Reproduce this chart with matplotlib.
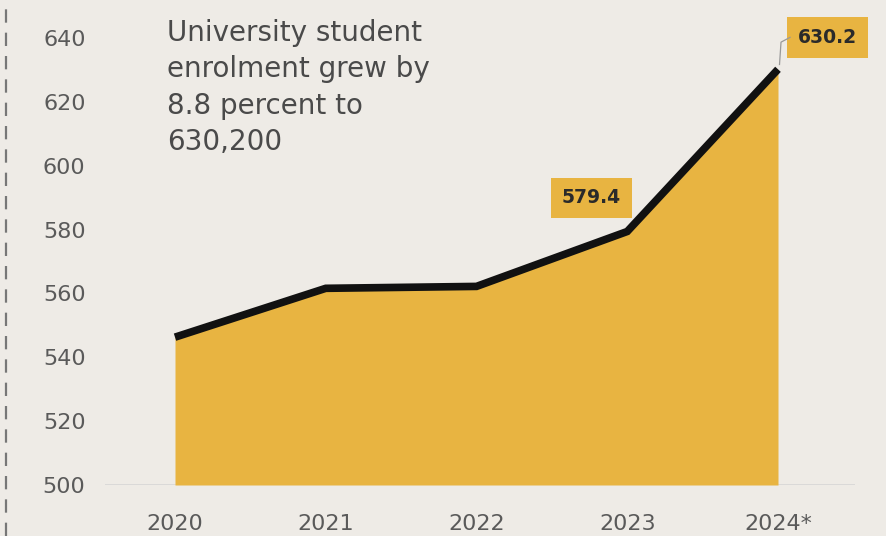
import matplotlib
matplotlib.use("Agg")
import matplotlib.pyplot as plt
from matplotlib.lines import Line2D

# Enrolment, thousands of students
years = ["2020", "2021", "2022", "2023", "2024*"]
enrolment = [546.3, 561.6, 562.2, 579.4, 630.2]
y_ticks = [500, 520, 540, 560, 580, 600, 620, 640]
headline = "University student\nenrolment grew by\n8.8 percent to\n630,200"

BG = "#EEEBE6"
FILL = "#E8B441"
TEXT = "#5a5a5a"

W, H = 887, 536
fig = plt.figure(figsize=(W / 100, H / 100), dpi=100, facecolor=BG)

left, right, base = 105, 855, 485
ax = fig.add_axes([left / W, (H - base) / H, (right - left) / W, base / H])
ax.set_facecolor(BG)

x = list(range(len(years)))
px_per_year = 150.75
px_per_unit = (485 - 38) / 140.0
ax.set_xlim(-70 / px_per_year, 4 + 77 / px_per_year)
ax.set_ylim(500, 500 + base / px_per_unit)

ax.fill_between(x, 500, enrolment, color=FILL, lw=0, zorder=2)
ax.plot(x, enrolment, color="#111111", lw=5.5, solid_capstyle="butt",
        solid_joinstyle="miter", zorder=3)
ax.axhline(500, color="#D6D6D6", lw=1.2, zorder=1)

for s in ax.spines.values():
    s.set_visible(False)
ax.set_xticks(x)
ax.set_xticklabels(years)
ax.set_yticks(y_ticks)
ax.tick_params(length=0, labelsize=16, labelcolor=TEXT)
ax.tick_params(axis="y", pad=14)
ax.tick_params(axis="x", pad=21)

ax.text(-0.05, 500 + (485 - 19) / px_per_unit, headline, fontsize=20,
        color="#4a4a4a", va="top", ha="left", linespacing=1.38)

box = dict(boxstyle="square,pad=0.58", fc=FILL, ec="none")
ax.text(2.76, enrolment[3] + 10.5, f"{enrolment[3]:.1f}", fontsize=13.5,
        fontweight="bold", color="#2a2a2a", ha="center", va="center", bbox=box,
        zorder=4)
ax.text(4.33, enrolment[4] + 10, f"{enrolment[4]:.1f}", fontsize=13.5,
        fontweight="bold", color="#2a2a2a", ha="center", va="center", bbox=box,
        zorder=4, clip_on=False)
# leader line from the last point to its label
ax.plot([4.01, 4.02, 4.08], [enrolment[4] + 1.5, enrolment[4] + 8.5,
        enrolment[4] + 10], color="#999999", lw=0.9, zorder=4, clip_on=False)

# dashed rule along the left edge
fig.add_artist(Line2D([6 / W, 6 / W], [0, 1], transform=fig.transFigure,
                      color="#777777", lw=1.6, dashes=(6, 4.5)))

fig.savefig("out.png", dpi=100, facecolor=BG)
